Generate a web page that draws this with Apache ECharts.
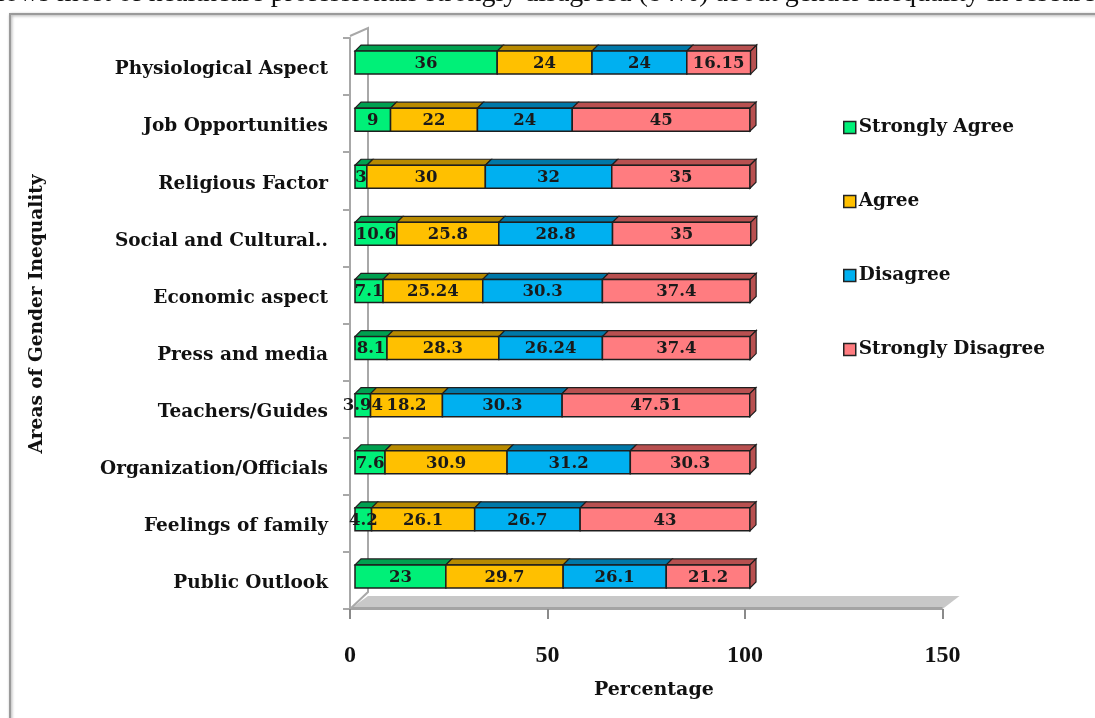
<!DOCTYPE html>
<html>
<head>
<meta charset="utf-8">
<script src="https://cdn.jsdelivr.net/npm/echarts@6/dist/echarts.min.js"></script>
<style>html,body{margin:0;padding:0;background:#fff}#c{width:1095px;height:718px}</style>
</head>
<body>
<div id="c"></div>
<script>
const categories = ['Physiological Aspect','Job Opportunities','Religious Factor','Social and Cultural..','Economic aspect','Press and media','Teachers/Guides','Organization/Officials','Feelings of family','Public Outlook'];
const seriesNames = ['Strongly Agree','Agree','Disagree','Strongly Disagree'];
const stronglyAgree    = [36, 9, 3, 10.6, 7.1, 8.1, 3.94, 7.6, 4.2, 23];
const agree            = [24, 22, 30, 25.8, 25.24, 28.3, 18.2, 30.9, 26.1, 29.7];
const disagree         = [24, 24, 32, 28.8, 30.3, 26.24, 30.3, 31.2, 26.7, 26.1];
const stronglyDisagree = [16.15, 45, 35, 35, 37.4, 37.4, 47.51, 30.3, 43, 21.2];
const xTicks = [0, 50, 100, 150];

const valuesBySeries = [stronglyAgree, agree, disagree, stronglyDisagree];
const frontColors = ['#00F078', '#FFC000', '#00B0F0', '#FF7C80'];
const topColors   = ['#00A050', '#B88A00', '#0078A8', '#B85050'];

const GL = 350, GT = 38, GW = 592.5, GH = 571;
const SERIF = '"DejaVu Serif", serif';

// cumulative starts for stacking
const cum = categories.map(() => 0);
const seriesData = valuesBySeries.map(vals => vals.map((v, i) => {
  const s = cum[i]; cum[i] += v; return [s, s + v, i, v];
}));

function makeRender(si) {
  const last = si === valuesBySeries.length - 1;
  return function (params, api) {
    const s = api.value(0), e = api.value(1), c = api.value(2), v = api.value(3);
    const p0 = api.coord([s, c]), p1 = api.coord([e, c]);
    const dx0 = 5, h = 23, d = 6;
    const x0 = p0[0] + dx0, x1 = p1[0] + dx0;
    const cy = p0[1] - 4, yT = cy - h / 2, yB = cy + h / 2;
    const stroke = '#1e1e1e';
    const children = [
      { type: 'polygon', shape: { points: [[x0, yT], [x1, yT], [x1 + d, yT - d], [x0 + d, yT - d]] },
        style: { fill: topColors[si], stroke: stroke, lineWidth: 1.2 } },
      { type: 'rect', shape: { x: x0, y: yT, width: x1 - x0, height: h },
        style: { fill: frontColors[si], stroke: stroke, lineWidth: 1.5 } }
    ];
    if (last) {
      children.push({ type: 'polygon', shape: { points: [[x1, yT], [x1 + d, yT - d], [x1 + d, yB - d], [x1, yB]] },
        style: { fill: topColors[si], stroke: stroke, lineWidth: 1.2 } });
    }
    children.push({ type: 'text', z2: 100, style: { text: String(v), x: (x0 + x1) / 2, y: cy + 1, align: 'center', verticalAlign: 'middle',
      fill: '#1a1a1a', font: 'bold 16.5px ' + SERIF } });
    return { type: 'group', children: children };
  };
}

const chart = echarts.init(document.getElementById('c'), null, { renderer: 'canvas' });

const floorBack = 13, wallDx = 18;
const gB = GT + GH;

chart.setOption({
  animation: false,
  backgroundColor: '#fff',
  grid: { left: GL, top: GT, width: GW, height: GH },
  xAxis: {
    type: 'value', min: 0, max: 150, interval: 50,
    axisLine: { show: false },
    axisTick: { show: true, length: 10, lineStyle: { color: '#8a8a8a', width: 2 } },
    splitLine: { show: false },
    axisLabel: { margin: 35, color: '#111', fontFamily: '"Liberation Serif", serif', fontWeight: 'bold', fontSize: 24,
      formatter: v => xTicks.indexOf(v) >= 0 ? String(v) : '' }
  },
  yAxis: {
    type: 'category', inverse: true, data: categories,
    axisLine: { show: true, lineStyle: { color: '#a8a8a8', width: 2 } },
    axisTick: { show: true, length: 7, lineStyle: { color: '#a8a8a8', width: 2 } },
    axisLabel: { margin: 22, formatter: v => '{c|' + v + '}',
      rich: { c: { color: '#111', fontFamily: SERIF, fontWeight: 'bold', fontSize: 18.5, padding: [6, 0, 0, 0] } } }
  },
  legend: {
    orient: 'vertical', left: 838, top: 113, itemGap: 55, itemWidth: 12, itemHeight: 12,
    icon: 'rect', data: seriesNames,
    itemStyle: { borderColor: '#222', borderWidth: 1.5 },
    textStyle: { color: '#111', fontFamily: SERIF, fontWeight: 'bold', fontSize: 18.5, lineHeight: 19, padding: [0, 0, 0, -2] }
  },
  graphic: [
    { type: 'text', left: -3, top: -20, silent: true,
      style: { text: 'lows most of healthcare professionals strongly disagreed (84%) about gender inequality in research',
        fill: '#111', font: '28px "Liberation Serif", serif' } },
    { type: 'rect', shape: { x: 10, y: 14, width: 1200, height: 800 }, silent: true, z: -10,
      style: { fill: '#fff', stroke: '#9a9a9a', lineWidth: 2, shadowBlur: 3, shadowColor: 'rgba(0,0,0,0.35)', shadowOffsetX: 1, shadowOffsetY: 1 } },
    { type: 'polygon', silent: true, z: -5,
      shape: { points: [[GL, gB], [GL + GW, gB], [GL + GW + 17, gB - floorBack], [GL + wallDx, gB - floorBack]] },
      style: { fill: '#c8c8c8' } },
    { type: 'rect', silent: true, z: -5, shape: { x: GL, y: gB - 2, width: GW, height: 3 }, style: { fill: '#a4a4a4' } },
    { type: 'polyline', silent: true, z: -4,
      shape: { points: [[GL, GT - 2], [GL + wallDx, GT - 10], [GL + wallDx, gB - floorBack - 4], [GL, gB]] },
      style: { stroke: '#a8a8a8', lineWidth: 2, fill: null } },
    { type: 'text', left: 594, top: 681, silent: true,
      style: { text: 'Percentage', fill: '#111', font: 'bold 19px ' + SERIF } },
    { type: 'text', x: 37, y: 314, rotation: Math.PI / 2, silent: true,
      style: { text: 'Areas of Gender Inequality', fill: '#111', font: 'bold 18.5px ' + SERIF, align: 'center', verticalAlign: 'middle' } }
  ],
  series: seriesNames.map((name, si) => ({
    type: 'custom', name: name,
    itemStyle: { color: frontColors[si] },
    encode: { x: [0, 1], y: 2 },
    renderItem: makeRender(si),
    data: seriesData[si]
  }))
});
</script>
</body>
</html>
